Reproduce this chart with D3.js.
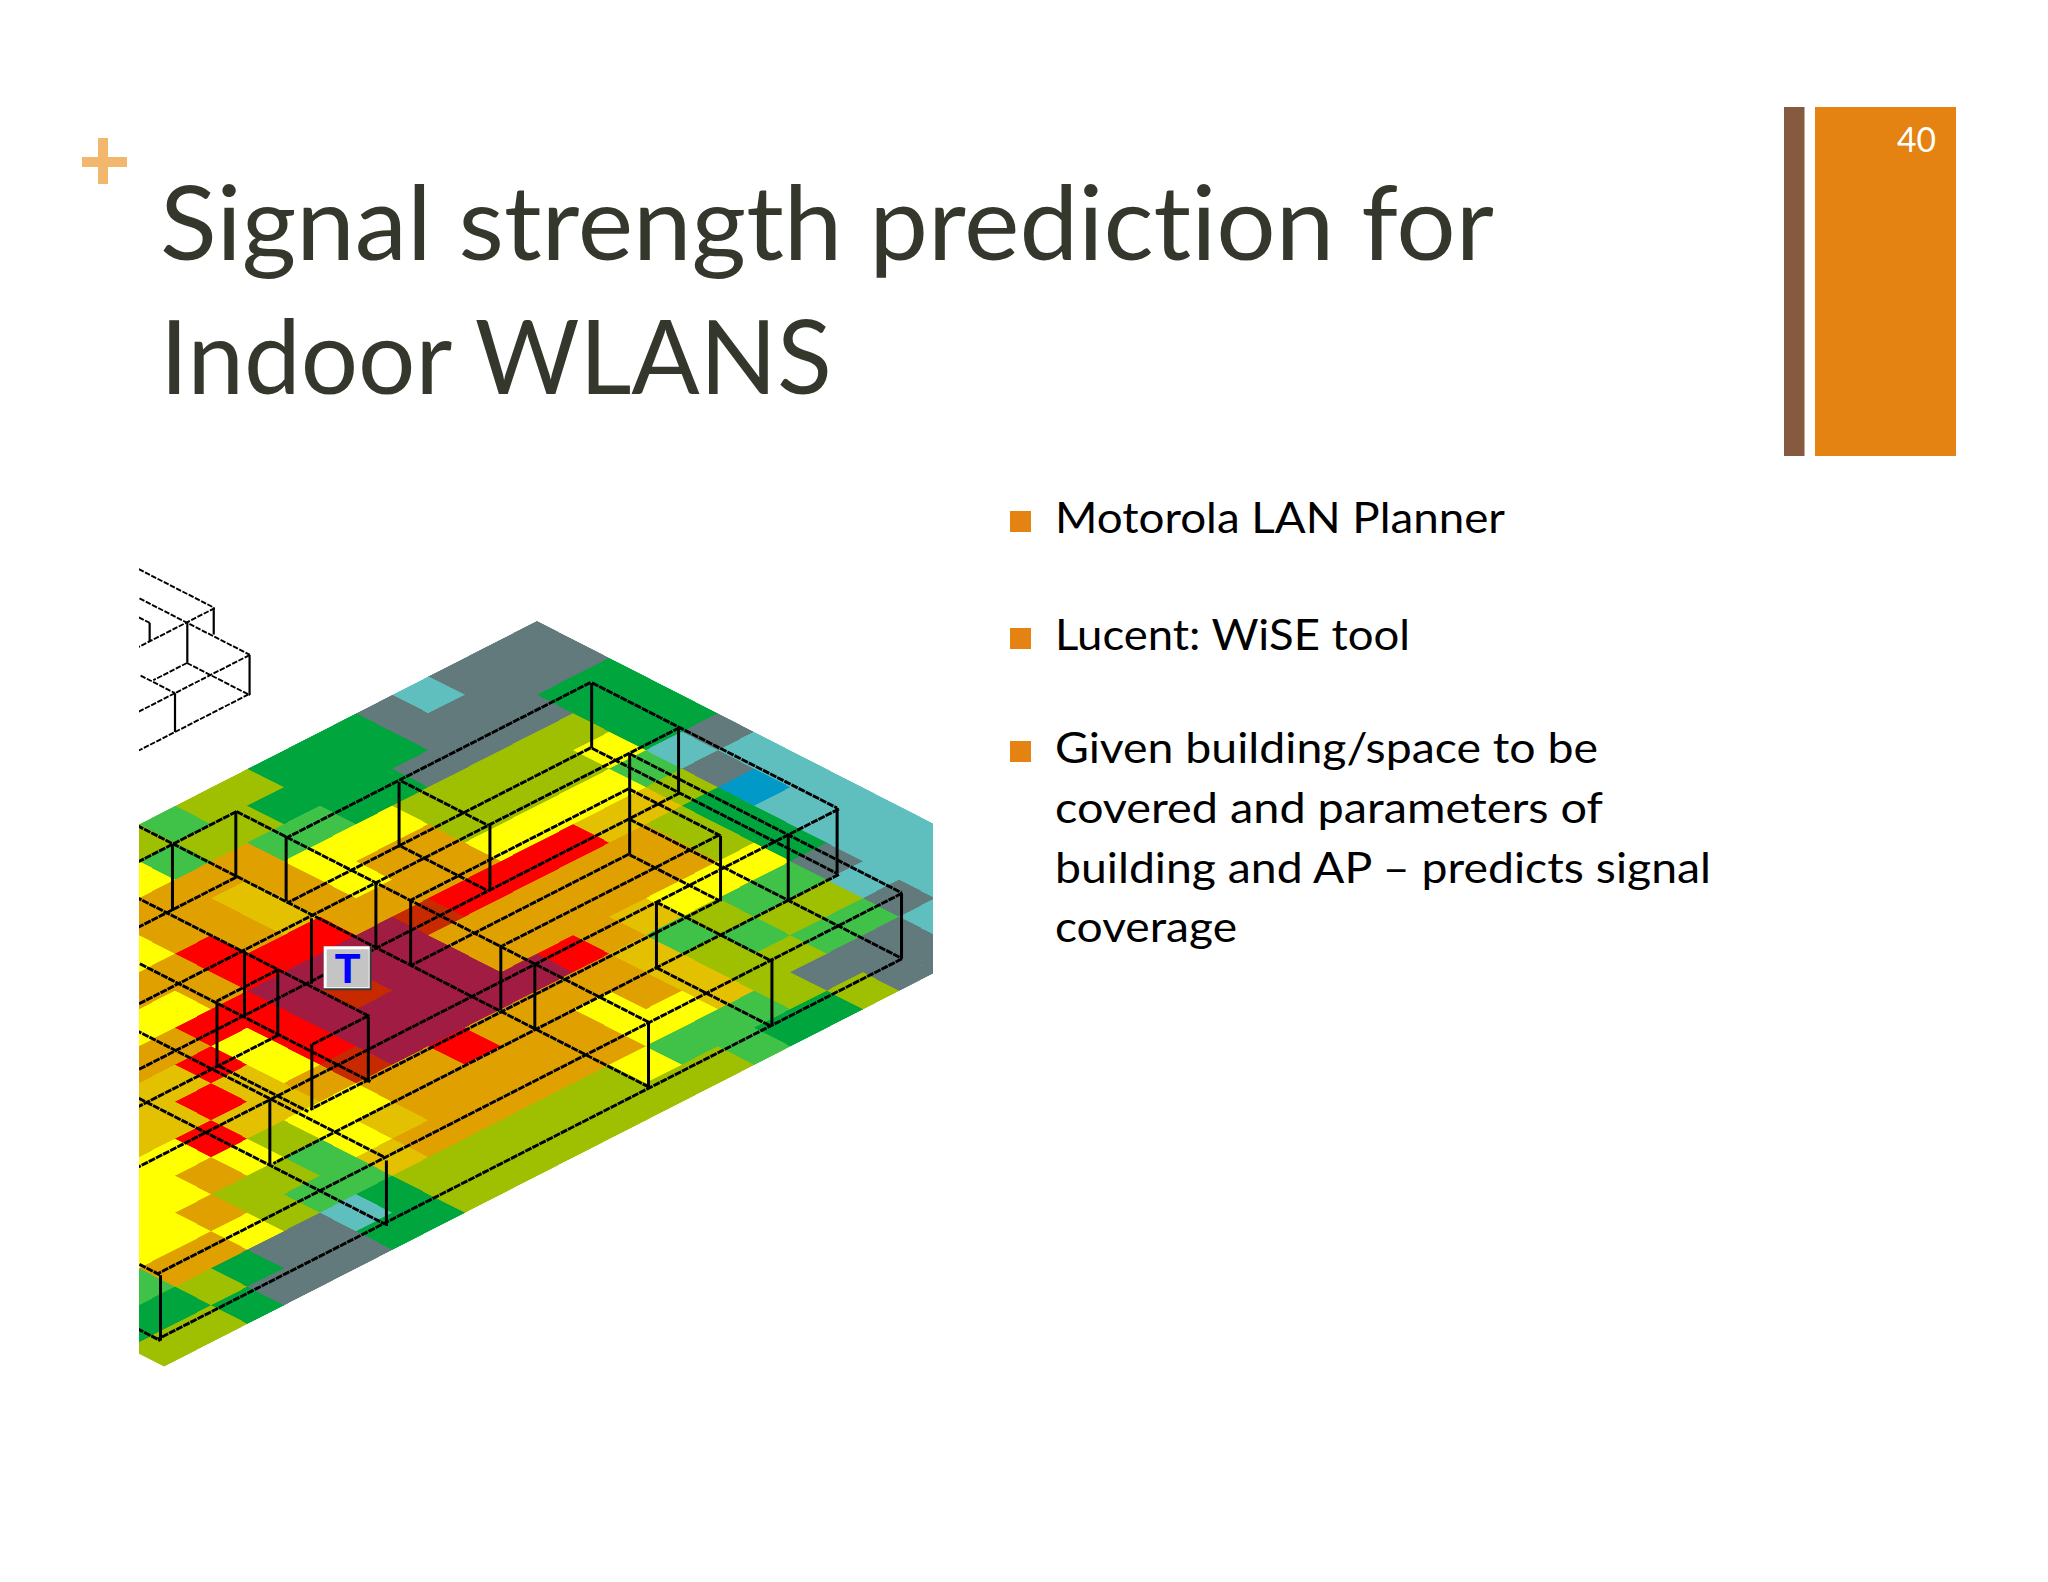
<!DOCTYPE html>
<html>
<head>
<meta charset="utf-8">
<script src="https://cdn.jsdelivr.net/npm/d3@7"></script>
<style>
body { margin: 0; background: #ffffff; }
svg { display: block; }
text { font-family: Lato, "Open Sans", sans-serif; font-variant-ligatures: none; }
</style>
</head>
<body>
<svg id="slide" width="2048" height="1582"></svg>
<script>
// signal level codes and what they look like on the plot
var levelCodes = ["b", "c", "g", "d", "m", "o", "y", "h", "a", "r", "e", "p"];
var levelColors = ["#0099c8", "#5fbfbf", "#627a7c", "#00a53c", "#3fc248", "#9fc000",
	"#ffff00", "#e3c000", "#e0a000", "#ff0000", "#c82a00", "#a01f42"];

// one string per grid row u, one letter per cell v, "." = outside the picture
var signalRows = [
	"gggcgdddoomo",
	"gggggddddoomy",
	"ddggggddmmaaaa",
	"ddoooooyyyahaay",
	"ddyooooaayaharaa",
	"gcmyyyyaaaarrrayy",
	"cgohhrrrrepppprraa",
	"cbdoaaaaaappepryrhh",
	"ccdoaaaaaappppryhrhh",
	"ccdyyyharpppppeahhryy",
	"ccgmmomhaaaaraayyoyayy",
	"cccoomohayaaaaahymooayy",
	".cgmmoohyyaaaaaahmmoyaam",
	"..cgggommmyoooooodcggdodd",
	"...ggoddmooooooooddgggdooo"
];

// walls on the building plan: [u, vFrom, vTo]
var wallsAlongV = [
	[1, 9.3, 12.4], [2.77, 11.08, 14], [2.4, 0.92, 9.27], [4.17, 2.69, 11.04],
	[4.85, 0.91, 16], [6.62, 2.68, 18], [5.8, 3.27, 9.27], [7.57, 5.04, 11.04],
	[8.3, 3.27, 9.25], [10.07, 5.04, 16.33], [5.85, 13, 14.7], [7.62, 14.77, 19],
	[8.34, 13, 14.6], [9.25, 0.91, 21], [11.02, 2.68, 18.3], [12.4, 2.32, 22.88],
	[14.17, 4.09, 24.65]
];
// walls on the building plan: [v, uFrom, uTo]
var wallsAlongU = [
	[0.91, 2.43, 9.2], [2.68, 4.2, 10.97], [2.31, 4.87, 12.39], [4.08, 6.64, 14.17],
	[3.27, 5.82, 8.34], [5.04, 7.6, 10.07], [5.95, 9.25, 12.37], [7.72, 11.02, 14.14],
	[6.2, 2.45, 4.84], [7.97, 4.22, 6.6], [9.3, 1, 12.4], [11.05, 0, 14.17],
	[13, 1.9, 8.37], [14.75, 3.78, 10.15], [16.42, 7.64, 10.1], [16.6, 5.5, 12.4],
	[18.4, 7.4, 14.17], [22.88, 11.7, 12.48], [24.65, 13.6, 14.25]
];
// corner posts: [u, v, height]
var posts = [
	[2.43, 0.92, 1.77], [4.82, 0.91, 1.77], [9.2, 0.91, 1.77], [4.87, 2.31, 2.73],
	[9.25, 2.31, 1.77], [8.34, 3.27, 1.77], [12.39, 2.32, 1.77], [9.25, 5.95, 1.77],
	[12.37, 5.88, 1.77], [4.84, 6.14, 1.77], [2.45, 6.26, 1.77], [0.99, 9.31, 1.77],
	[1.03, 11.1, 1.77], [2.34, 9.27, 1.77], [4.82, 9.27, 1.77], [4.92, 11.15, 1.77],
	[5.78, 9.27, 1.77], [8.25, 9.25, 1.77], [9.27, 9.33, 1.77], [12.41, 9.33, 1.77],
	[4.87, 12.95, 1.77], [5.84, 13, 1.77], [5.87, 14.71, 1.77], [8.34, 14.56, 1.77],
	[8.37, 13.03, 1.77], [9.22, 16.6, 1.77], [12.5, 16.66, 1.77], [12.48, 22.88, 1.77]
];

// the small unmeasured wing in the upper left corner
var annexAlongV = [[-4.8, 4.1, 6.2], [-3.05, 4.89, 8], [-3.7, 5.97, 6.9], [-2, 5.97, 9]];
var annexAlongU = [[4.1, -6.9, -4.83], [4.88, -6.1, -3.05], [6.95, -4, -3.05],
	[5.97, -3.7, -1.96], [5.4, -5.6, -5.3]];
var annexPosts = [[-4.83, 4.1, 0.73], [-4.8, 4.86, 1.1], [-3.05, 4.89, 1.08],
	[-3.05, 6.95, 1.05], [-5.3, 5.4, 0.5]];

var plateSize = [15, 25.3];
var transmitter = [6.77, 12.0];

var titleLines = ["Signal strength prediction for", "Indoor WLANS"];
var bulletLines = [
	{text: "Motorola LAN Planner", bullet: true},
	{text: "Lucent: WiSE tool", bullet: true},
	{text: "Given building/space to be", bullet: true},
	{text: "covered and parameters of", bullet: false},
	{text: "building and AP \u2013 predicts signal", bullet: false},
	{text: "coverage", bullet: false}
];
var pageNumber = "40";

var svg = d3.select("#slide");

// isometric projection of the plan grid
var xScale = d3.scaleLinear().domain([0, 1]).range([537, 573.2]);
var yScale = d3.scaleLinear().domain([0, 1]).range([621, 639.5]);
var colorScale = d3.scaleOrdinal().domain(levelCodes).range(levelColors);

var project = function (u, v)
{
	return [xScale(u - v), yScale(u + v)];
}
var diamond = function (u, v, w, h)
{
	return [project(u, v), project(u + w, v), project(u + w, v + h), project(u, v + h)];
}
var pointsAttr = function (pts)
{
	return pts.map(function (p) { return p.join(","); }).join(" ");
}

var defs = svg.append("defs");
defs.append("clipPath").attr("id", "frameClip")
	.append("rect")
	.attr("x", 139).attr("y", 540).attr("width", 794).attr("height", 860);
defs.append("clipPath").attr("id", "plateClip")
	.append("polygon")
	.attr("points", pointsAttr(diamond(0, 0, plateSize[0], plateSize[1])));
defs.append("filter").attr("id", "soft")
	.append("feGaussianBlur").attr("stdDeviation", 0.5);

var drawPlate = function ()
{
	var cells = [];
	signalRows.forEach(function (row, u)
	{
		row.split("").forEach(function (code, v)
		{
			if (code != ".") { cells.push({u: u, v: v, code: code}); }
		});
	});

	var frame = svg.append("g").attr("clip-path", "url(#frameClip)");
	var soft = frame.append("g").attr("filter", "url(#soft)");

	soft.append("g")
		.attr("clip-path", "url(#plateClip)")
		.selectAll("polygon")
		.data(cells)
		.enter()
		.append("polygon")
		.attr("points", function (c) { return pointsAttr(diamond(c.u, c.v, 1, 1)); })
		.attr("fill", function (c) { return colorScale(c.code); })
		.attr("stroke", function (c) { return colorScale(c.code); })
		.attr("stroke-width", 0.6)
		.attr("shape-rendering", "crispEdges");

	drawWires(soft, wallsAlongV, wallsAlongU, posts, 2.9, 3, "7 1");
	drawWires(soft, annexAlongV, annexAlongU, annexPosts, 1.9, 2.2, "5.5 1.5");
}

var drawWires = function (parent, alongV, alongU, uprights, lineWidth, postWidth, dash)
{
	var segs = alongV.map(function (w) { return [project(w[0], w[1]), project(w[0], w[2])]; })
		.concat(alongU.map(function (w) { return [project(w[1], w[0]), project(w[2], w[0])]; }));

	parent.append("g")
		.selectAll("line")
		.data(segs)
		.enter()
		.append("line")
		.attr("x1", function (s) { return s[0][0]; })
		.attr("y1", function (s) { return s[0][1]; })
		.attr("x2", function (s) { return s[1][0]; })
		.attr("y2", function (s) { return s[1][1]; })
		.attr("stroke", "#000000")
		.attr("stroke-width", lineWidth)
		.attr("stroke-dasharray", dash);

	parent.append("g")
		.selectAll("line")
		.data(uprights)
		.enter()
		.append("line")
		.attr("x1", function (p) { return project(p[0], p[1])[0]; })
		.attr("y1", function (p) { return project(p[0], p[1])[1]; })
		.attr("x2", function (p) { return project(p[0] + p[2], p[1] + p[2])[0]; })
		.attr("y2", function (p) { return project(p[0] + p[2], p[1] + p[2])[1]; })
		.attr("stroke", "#000000")
		.attr("stroke-width", postWidth);
}

var drawTransmitter = function ()
{
	var c = project(transmitter[0], transmitter[1]);
	var g = svg.append("g").attr("transform", "translate(" + c[0] + "," + c[1] + ")");
	g.append("rect").attr("x", -24).attr("y", -22).attr("width", 48).attr("height", 44)
		.attr("fill", "#3a3a3a");
	g.append("rect").attr("x", -24).attr("y", -22).attr("width", 46).attr("height", 42)
		.attr("fill", "#ffffff");
	g.append("rect").attr("x", -21).attr("y", -19).attr("width", 42).attr("height", 38)
		.attr("fill", "#c4c4c4");
	g.append("text")
		.attr("x", 0).attr("y", 15)
		.attr("text-anchor", "middle")
		.attr("fill", "#0000ff")
		.style("font-family", "'Liberation Sans'")
		.style("font-weight", "bold")
		.style("font-size", "42px")
		.text("T");
}

var drawFurniture = function ()
{
	svg.append("rect").attr("x", 1784).attr("y", 107).attr("width", 20.5).attr("height", 349).attr("fill", "#855a3f");
	svg.append("rect").attr("x", 1815).attr("y", 107).attr("width", 141).attr("height", 349).attr("fill", "#e48312");
	svg.append("rect").attr("x", 82).attr("y", 157).attr("width", 45).attr("height", 10).attr("fill", "#f2b66d");
	svg.append("rect").attr("x", 98).attr("y", 138).attr("width", 10).attr("height", 46).attr("fill", "#f2b66d");

	svg.append("text")
		.attr("x", 1897).attr("y", 152)
		.attr("textLength", 39).attr("lengthAdjust", "spacingAndGlyphs")
		.attr("fill", "#ffffff")
		.style("font-size", "34px")
		.text(pageNumber);
}

var drawText = function ()
{
	var titleBase = [260, 394];
	var titleLength = [1334, 672];
	svg.selectAll("text.title")
		.data(titleLines)
		.enter()
		.append("text")
		.classed("title", true)
		.attr("x", 160)
		.attr("y", function (d, i) { return titleBase[i]; })
		.attr("textLength", function (d, i) { return titleLength[i]; })
		.attr("lengthAdjust", "spacingAndGlyphs")
		.attr("fill", "#34382c")
		.style("font-size", "103px")
		.text(function (d) { return d; });

	var bodyBase = [533, 650, 763, 823, 883, 942];
	var bodyLength = [450, 355, 543, 548, 656, 182];
	svg.selectAll("text.body")
		.data(bulletLines)
		.enter()
		.append("text")
		.classed("body", true)
		.attr("x", 1055)
		.attr("y", function (d, i) { return bodyBase[i]; })
		.attr("textLength", function (d, i) { return bodyLength[i]; })
		.attr("lengthAdjust", "spacingAndGlyphs")
		.attr("fill", "#000000")
		.style("font-size", "43px")
		.text(function (d) { return d.text; });

	svg.selectAll("rect.bullet")
		.data(bulletLines.filter(function (d) { return d.bullet; }))
		.enter()
		.append("rect")
		.classed("bullet", true)
		.attr("x", 1010)
		.attr("y", function (d, i) { return bodyBase[i] - 22; })
		.attr("width", 21)
		.attr("height", 21)
		.attr("fill", "#e48312");
}

drawPlate();
drawTransmitter();
drawFurniture();
drawText();
</script>
</body>
</html>
